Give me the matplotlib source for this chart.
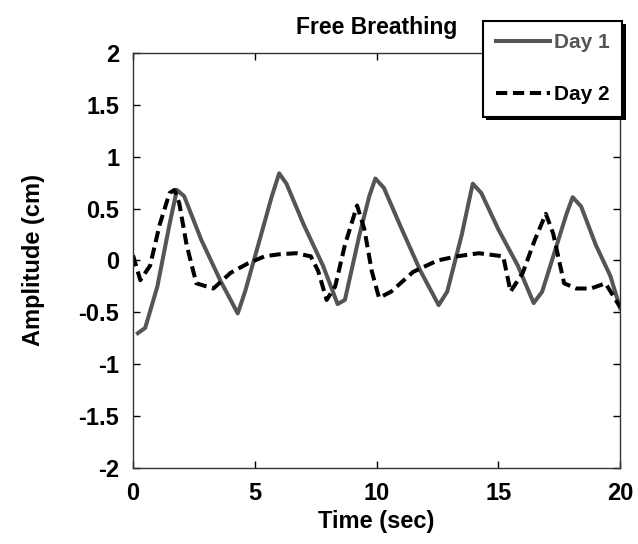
import matplotlib
matplotlib.use("Agg")
import matplotlib.pyplot as plt
import matplotlib.patheffects as pe

plt.rcParams['font.family'] = ['Liberation Sans', 'DejaVu Sans']

# Day 1 (solid, gray)
day1_t = [0.2, 0.5, 1.0, 1.5, 1.8, 2.1, 2.8, 3.6, 4.3, 4.6, 5.2, 5.7, 6.0, 6.3, 7.0, 7.8, 8.4, 8.7, 9.3, 9.7, 9.95, 10.3, 11.0, 11.8, 12.55, 12.9, 13.5, 13.8, 13.95, 14.3, 15.0, 15.8, 16.45, 16.8, 17.4, 17.8, 18.05, 18.4, 19.0, 19.6, 20.0]
day1_y = [-0.70, -0.65, -0.25, 0.35, 0.68, 0.62, 0.20, -0.20, -0.51, -0.30, 0.20, 0.62, 0.84, 0.74, 0.35, -0.05, -0.42, -0.38, 0.25, 0.62, 0.79, 0.70, 0.32, -0.10, -0.43, -0.30, 0.25, 0.58, 0.74, 0.65, 0.30, -0.05, -0.41, -0.30, 0.15, 0.45, 0.61, 0.52, 0.15, -0.15, -0.46]

# Day 2 (dashed, black)
day2_t = [0.0, 0.3, 0.7, 1.1, 1.5, 1.7, 1.9, 2.2, 2.6, 3.3, 4.0, 4.7, 5.4, 6.0, 6.7, 7.3, 7.6, 7.95, 8.3, 8.7, 9.2, 9.5, 9.8, 10.1, 10.6, 11.5, 12.5, 13.3, 14.2, 15.2, 15.5, 16.0, 16.5, 16.95, 17.25, 17.7, 18.2, 18.8, 19.4, 20.0]
day2_y = [0.05, -0.19, -0.05, 0.35, 0.65, 0.68, 0.55, 0.15, -0.22, -0.27, -0.12, -0.03, 0.04, 0.06, 0.07, 0.04, -0.10, -0.38, -0.25, 0.15, 0.53, 0.30, -0.10, -0.36, -0.30, -0.11, 0.00, 0.04, 0.07, 0.04, -0.30, -0.12, 0.20, 0.45, 0.26, -0.22, -0.27, -0.27, -0.22, -0.45]

xticks = [0, 5, 10, 15, 20]
yticks = [-2, -1.5, -1, -0.5, 0, 0.5, 1, 1.5, 2]
ytick_labels = ['-2', '-1.5', '-1', '-0.5', '0', '0.5', '1', '1.5', '2']

fig = plt.figure(figsize=(6.38, 5.44), dpi=100)
ax = fig.add_axes([0.2085, 0.1397, 0.7635, 0.7629])

ax.plot(day1_t, day1_y, color='#555555', lw=2.9, label='Day 1')
ax.plot(day2_t, day2_y, color='black', lw=2.9, ls=(0, (2.8, 1.4)), label='Day 2')

ax.set_xlim(0, 20)
ax.set_ylim(-2, 2)
ax.set_xticks(xticks)
ax.set_xticklabels([str(v) for v in xticks])
ax.set_yticks(yticks)
ax.set_yticklabels(ytick_labels)
ax.tick_params(direction='in', top=True, right=True, length=5, width=1,
               labelsize=17, pad=10)
for lbl in ax.get_xticklabels() + ax.get_yticklabels():
    lbl.set_fontweight('bold')
for sp in ax.spines.values():
    sp.set_linewidth(1.0)
    sp.set_color('#333333')

ax.set_xlabel('Time (sec)', fontsize=17, fontweight='bold', labelpad=4)
ax.set_ylabel('Amplitude (cm)', fontsize=17, fontweight='bold', labelpad=24)
ax.set_title('Free Breathing', fontsize=16.5, fontweight='bold', pad=14)

leg = ax.legend(loc='upper right', bbox_to_anchor=(1.004, 1.078), frameon=True,
                fancybox=False, edgecolor='black', framealpha=1,
                fontsize=15, labelspacing=1.6, handlelength=2.6,
                handletextpad=0.2, borderpad=0.6, borderaxespad=0)
frame = leg.get_frame()
frame.set_linewidth(1.5)
frame.set_path_effects([pe.SimplePatchShadow(offset=(2.5, -2.5), shadow_rgbFace='black', alpha=1),
                        pe.Normal()])
leg.set_zorder(10)
texts = leg.get_texts()
texts[0].set_color('#555555')
texts[0].set_fontweight('bold')
texts[1].set_color('black')
texts[1].set_fontweight('bold')

fig.savefig('out.png', dpi=100)
